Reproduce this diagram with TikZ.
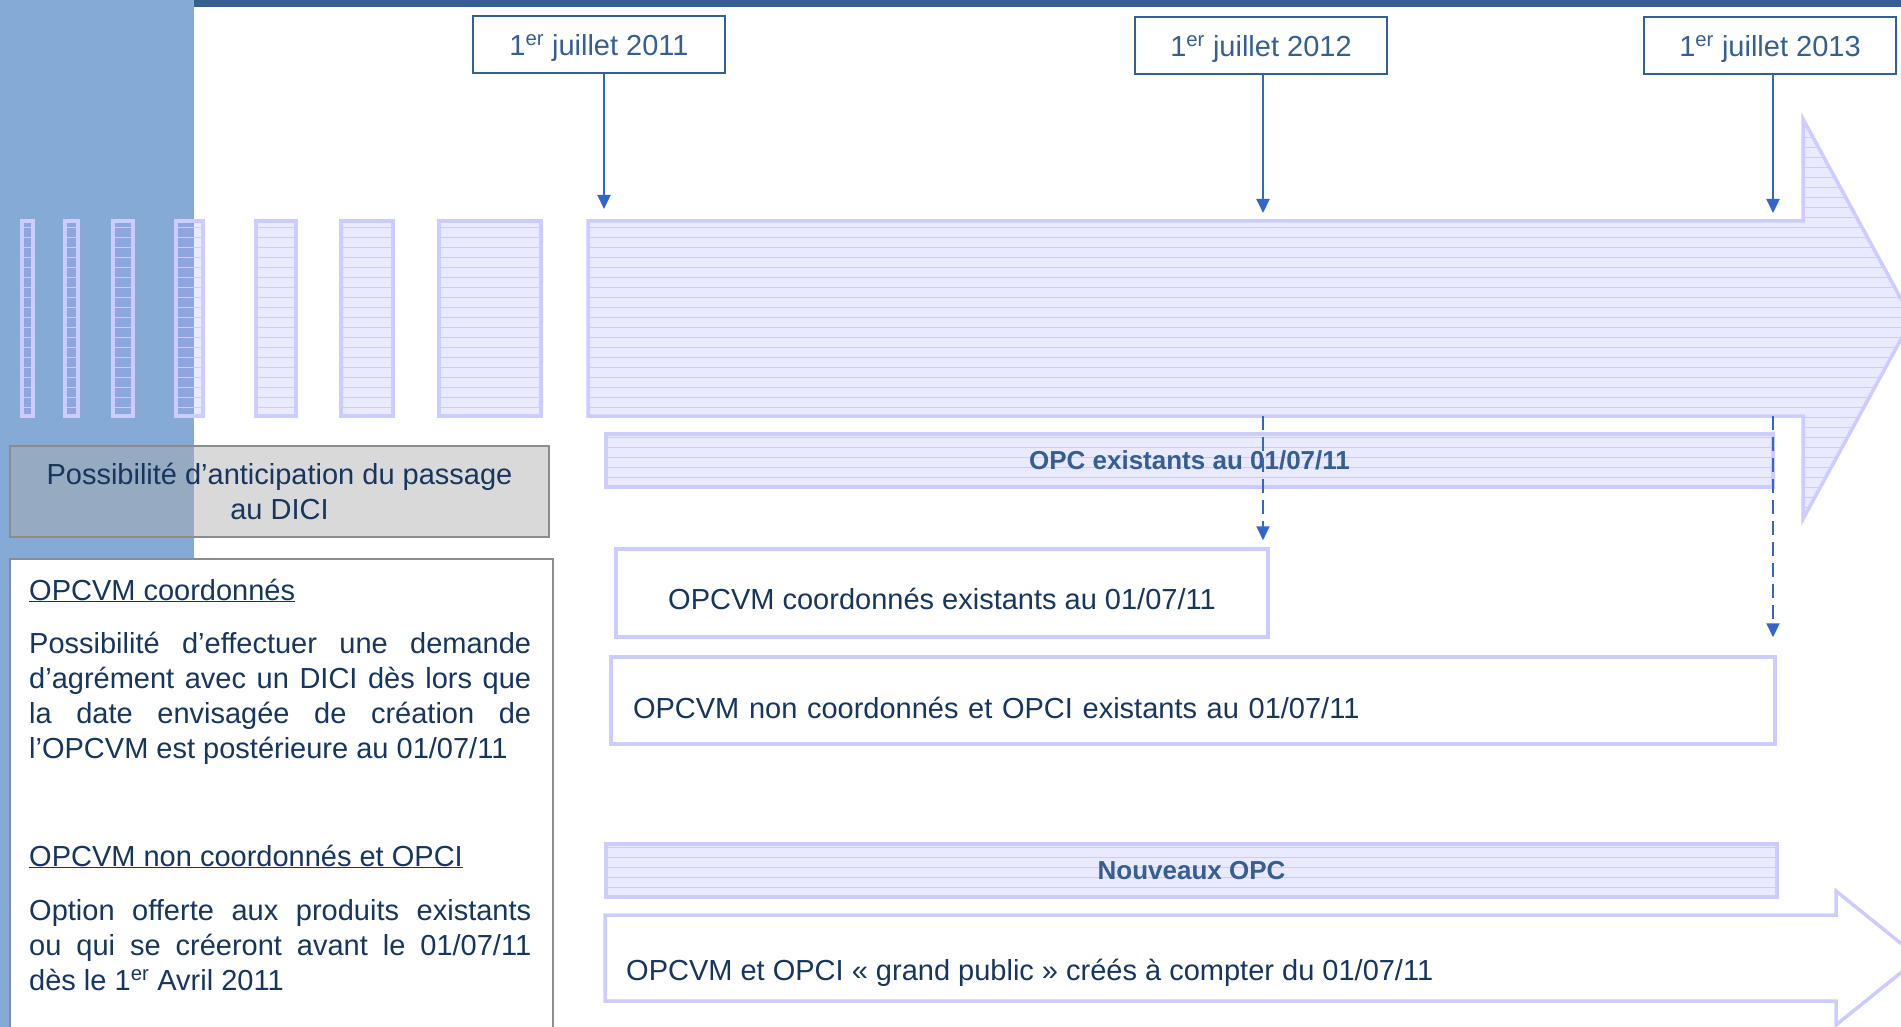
\documentclass[tikz,border=0pt]{standalone}
\usepackage{fontspec}
\setmainfont{Liberation Sans}
\usetikzlibrary{arrows.meta,patterns.meta}

\definecolor{navy}{HTML}{17365D}
\definecolor{steel}{HTML}{365F91}
\definecolor{panel}{HTML}{86AAD6}
\definecolor{lavline}{HTML}{CCCCFF}
\definecolor{lavfill}{HTML}{A0A0FF}
\definecolor{lavrule}{HTML}{DADAFC}
\definecolor{arrowblue}{HTML}{3366CC}
\definecolor{boxgray}{HTML}{8C8C8C}
\definecolor{greyfill}{HTML}{AAAAAA}

\tikzdeclarepattern{
  name=hrule,
  type=uncolored,
  bounding box={(0pt,-0.4pt) and (10pt,0.4pt)},
  tile size={(10pt,10pt)},
  code={\draw[line width=0.8pt] (0pt,0pt) -- (10pt,0pt);}
}

\begin{document}
\begin{tikzpicture}
  [x=1pt,y=-1pt,
   every node/.style={inner sep=0pt,text=navy,font=\fontsize{29}{35}\selectfont},
   datebox/.style={draw=steel,line width=2.5pt,fill=white,text=steel,minimum width=252pt,minimum height=57pt,text depth=0pt},
   lavshape/.style={draw=lavline,line width=3.5pt,fill=lavfill,fill opacity=.23,text opacity=1,
                    preaction={pattern=hrule,pattern color=lavrule}},
   lavbar/.style={lavshape,text=steel,font=\fontsize{26}{30}\selectfont\bfseries,minimum height=53pt},
   whitebox/.style={draw=lavline,line width=3.5pt,fill=white,text depth=0pt},
   greybox/.style={draw=boxgray,line width=2.5pt,fill=greyfill,fill opacity=.45,text opacity=1},
   parabox/.style={text width=502pt,align=justify,anchor=base west},
   datearrow/.style={arrowblue,line width=2pt,-{Triangle[length=14pt,width=13pt]}},
   dasharrow/.style={datearrow,dash pattern=on 14pt off 7pt}]
  \useasboundingbox (0,0) rectangle (1901,1027);

  \fill[panel] (0,0) rectangle (194,1027);
  \fill[steel] (194,0) rectangle (1901,7);

  \foreach \l/\r in {22/33,65/78,113/133,176/203,256/296,341/393,439/541}
    \draw[lavshape] (\l,221) rectangle (\r,416);
  \draw[lavshape] (588,221) -- (1803,221) -- (1803,119) -- (1912,319)
    -- (1803,519) -- (1803,416) -- (588,416) -- cycle;

  \node[datebox] (d1) at (599,44.5) {1\textsuperscript{er} juillet 2011};
  \node[datebox] (d2) at (1261,45.5) {1\textsuperscript{er} juillet 2012};
  \node[datebox] (d3) at (1770,45.5) {1\textsuperscript{er} juillet 2013};
  \coordinate (t1) at (604,209);
  \coordinate (t2) at (1263,213);
  \coordinate (t3) at (1773,213);
  \draw[datearrow] (d1.south -| t1) -- (t1);
  \draw[datearrow] (d2.south -| t2) -- (t2);
  \draw[datearrow] (d3.south -| t3) -- (t3);

  \node[greybox,minimum width=539pt,minimum height=91pt,align=center] (anti) at (279.5,491.5)
    {Possibilité d’anticipation du passage\\au DICI};

  \draw[draw=boxgray,line width=2.5pt,fill=white] (10,559) rectangle (553,1040);
  \node[anchor=base west] (h1) at (29,600) {\underline{OPCVM coordonnés}};
  \node[parabox] (p1) at (29,653) {\tolerance=10000 Possibilité d’effectuer une demande\linebreak
    d’agrément avec un DICI dès lors que\linebreak la date envisagée de création de\linebreak
    l’OPCVM est postérieure au 01/07/11};
  \node[anchor=base west] (h2) at (29,866) {\underline{OPCVM non coordonnés et OPCI}};
  \node[parabox] (p2) at (29,920) {\tolerance=10000 Option offerte aux produits existants\linebreak
    ou qui se créeront avant le 01/07/11\linebreak dès le 1\textsuperscript{er} Avril 2011};

  \node[lavbar,minimum width=1167pt] (opc) at (1189.5,460.5) {OPC existants au 01/07/11};
  \node[whitebox,minimum width=652pt,minimum height=88pt,text height=33pt] (coex) at (942,593)
    {OPCVM coordonnés existants au 01/07/11};
  \node[whitebox,minimum width=1164pt,minimum height=87pt,text height=36pt,
        text width=1120pt,inner xsep=22pt,align=left] (ncex) at (1193,700.5)
    {OPCVM non coordonnés et OPCI existants au 01/07/11};

  \coordinate (b2) at (1263,416);
  \coordinate (b3) at (1773,416);
  \draw[dasharrow,shorten >=7pt] (b2) -- (b2 |- coex.north);
  \draw[dasharrow,shorten >=18pt] (b3) -- (b3 |- ncex.north);

  \node[lavbar,minimum width=1171pt] (new) at (1191.5,870.5) {Nouveaux OPC};
  \draw[draw=lavline,line width=3.5pt,fill=white] (605,915) -- (1836,915) -- (1836,891)
    -- (1919,958) -- (1836,1025) -- (1836,1001) -- (605,1001) -- cycle;
  \node[anchor=base west] (gp) at (626,980)
    {OPCVM et OPCI « grand public » créés à compter du 01/07/11};
\end{tikzpicture}
\end{document}
